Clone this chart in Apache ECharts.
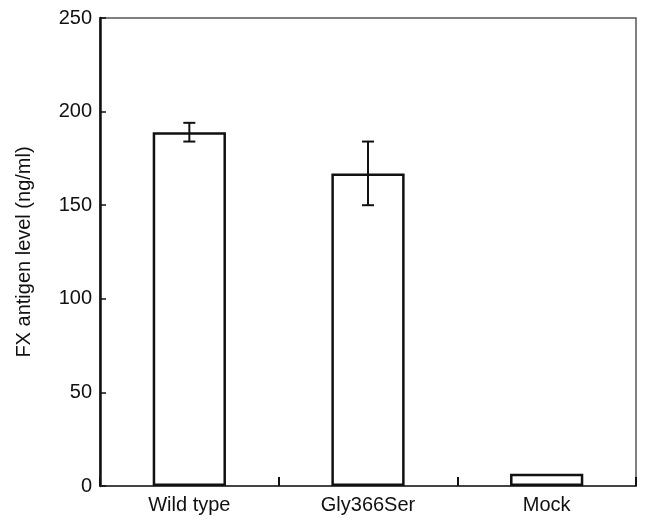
<!DOCTYPE html>
<html>
<head>
<meta charset="utf-8">
<script src="https://cdn.jsdelivr.net/npm/echarts@6/dist/echarts.min.js"></script>
<style>
html, body { margin: 0; padding: 0; background: #fff; }
#chart { width: 647px; height: 523px; }
</style>
</head>
<body>
<div id="chart"></div>
<script>
var categories = ['Wild type', 'Gly366Ser', 'Mock'];
var levels = [189, 167, 6.5];
var errLow = [184, 150, null];
var errHigh = [194, 184, null];

var errData = [];
for (var i = 0; i < categories.length; i++) {
    if (errLow[i] != null) {
        errData.push([i, errLow[i], errHigh[i]]);
    }
}

var myChart = echarts.init(document.getElementById('chart'));
var option = {
    animation: false,
    textStyle: { fontFamily: 'Liberation Sans, Arial, sans-serif' },
    grid: {
        left: 100,
        right: 11,
        top: 18,
        bottom: 37,
        show: true,
        borderColor: '#555',
        borderWidth: 1.5
    },
    xAxis: {
        type: 'category',
        data: categories,
        axisLine: { lineStyle: { color: '#444', width: 2 } },
        axisTick: { show: true, inside: true, length: 9, lineStyle: { color: '#111', width: 2 } },
        axisLabel: { color: '#111', fontSize: 20, margin: 9 }
    },
    yAxis: {
        type: 'value',
        min: 0,
        max: 250,
        interval: 50,
        name: 'FX antigen level (ng/ml)',
        nameLocation: 'middle',
        nameGap: 66,
        nameTextStyle: { color: '#111', fontSize: 20 },
        splitLine: { show: false },
        axisLine: { show: true, lineStyle: { color: '#111', width: 2.5 } },
        axisTick: { show: true, inside: true, length: 6, lineStyle: { color: '#111', width: 1.5 } },
        axisLabel: { color: '#111', fontSize: 20, margin: 8 }
    },
    series: [
        {
            type: 'bar',
            data: levels,
            barWidth: '41%',
            itemStyle: { color: '#fff', borderColor: '#111', borderWidth: 2.5 }
        },
        {
            type: 'custom',
            data: errData,
            z: 10,
            renderItem: function(params, api) {
                var lo = api.coord([api.value(0), api.value(1)]);
                var hi = api.coord([api.value(0), api.value(2)]);
                var w = 6;
                var style = { stroke: '#111', lineWidth: 2 };
                return {
                    type: 'group',
                    children: [
                        { type: 'line', shape: { x1: lo[0], y1: lo[1], x2: hi[0], y2: hi[1] }, style: style },
                        { type: 'line', shape: { x1: lo[0] - w, y1: lo[1], x2: lo[0] + w, y2: lo[1] }, style: style },
                        { type: 'line', shape: { x1: hi[0] - w, y1: hi[1], x2: hi[0] + w, y2: hi[1] }, style: style }
                    ]
                };
            }
        }
    ]
};
myChart.setOption(option);
</script>
</body>
</html>
